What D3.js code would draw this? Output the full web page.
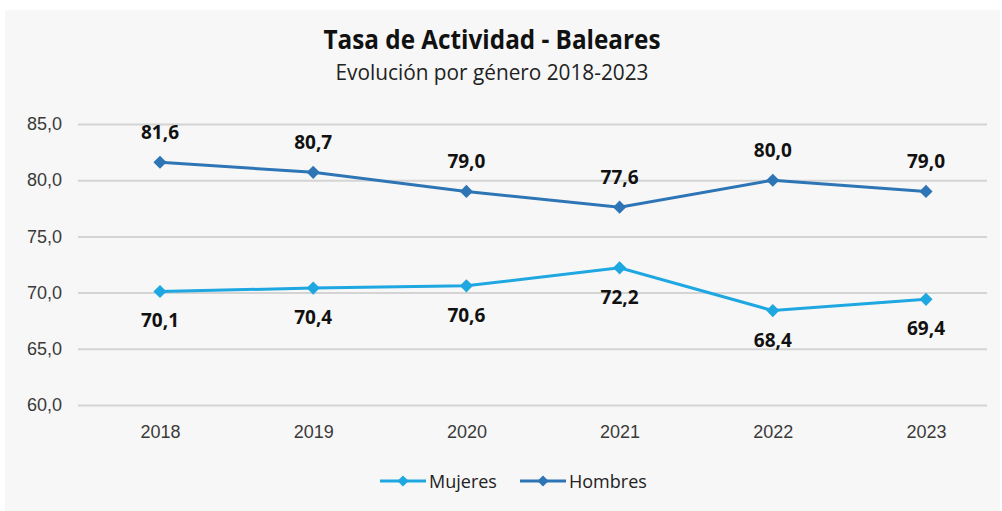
<!DOCTYPE html>
<html>
<head>
<meta charset="utf-8">
<script src="https://cdn.jsdelivr.net/npm/d3@7"></script>
<style>
  body { margin: 0; background: #fff; }
  svg { display: block; font-family: "Open Sans", "Noto Sans", sans-serif; }
</style>
</head>
<body>
<div class="board"></div>
<script>
var width = 1002;
var height = 511;

var years = ['2018', '2019', '2020', '2021', '2022', '2023'];
var mujeres = [70.1, 70.4, 70.6, 72.2, 68.4, 69.4];
var hombres = [81.6, 80.7, 79.0, 77.6, 80.0, 79.0];
var yTicks = [60, 65, 70, 75, 80, 85];

var colorMujeres = '#1ea7e1';
var colorHombres = '#2e75b6';

var svg = d3.select('.board')
            .append('svg')
            .attr('width', width)
            .attr('height', height);

// panel background
svg.append('rect')
   .attr('x', 5).attr('y', 10)
   .attr('width', 995).attr('height', 501)
   .attr('fill', '#f7f7f7');

var x = d3.scalePoint().domain(years).range([160, 926]);
var y = d3.scaleLinear().domain([60, 85]).range([405, 124]);

var fmt = function(v) { return v.toFixed(1).replace('.', ','); };

// y axis with gridlines
var yAxis = svg.append('g')
   .attr('transform', 'translate(78,0)')
   .call(d3.axisLeft(y).tickValues(yTicks).tickSize(-909).tickFormat(fmt));
yAxis.select('.domain').remove();
yAxis.selectAll('line').attr('stroke', '#d4d4d4').attr('stroke-width', 2);
yAxis.selectAll('text')
     .attr('x', -16)
     .attr('fill', '#3a3a3a')
     .style('font-size', '18px');

// x axis labels
var xAxis = svg.append('g')
   .attr('transform', 'translate(0,405)')
   .call(d3.axisBottom(x).tickSize(0).tickPadding(20));
xAxis.select('.domain').remove();
xAxis.selectAll('text')
     .attr('fill', '#3a3a3a')
     .style('font-size', '18px');

var series = [
  { name: 'Mujeres', values: mujeres, color: colorMujeres, dy: 36 },
  { name: 'Hombres', values: hombres, color: colorHombres, dy: -23 }
];

var line = d3.line()
   .x(function(d, i) { return x(years[i]); })
   .y(function(d) { return y(d); });

var diamond = d3.symbol().type(d3.symbolDiamond2).size(110);

series.forEach(function(s) {
  svg.append('path')
     .datum(s.values)
     .attr('d', line)
     .attr('fill', 'none')
     .attr('stroke', s.color)
     .attr('stroke-width', 3);

  svg.selectAll('.m-' + s.name)
     .data(s.values)
     .enter()
     .append('path')
     .attr('d', diamond)
     .attr('transform', function(d, i) { return 'translate(' + x(years[i]) + ',' + y(d) + ')'; })
     .attr('fill', s.color);

  svg.selectAll('.l-' + s.name)
     .data(s.values)
     .enter()
     .append('text')
     .attr('x', function(d, i) { return x(years[i]); })
     .attr('y', function(d) { return y(d) + s.dy; })
     .attr('text-anchor', 'middle')
     .attr('font-weight', 'bold')
     .style('font-size', '19px')
     .attr('fill', '#111')
     .text(fmt);
});

// titles
svg.append('text')
   .attr('x', 492).attr('y', 49)
   .attr('text-anchor', 'middle')
   .attr('font-weight', 'bold')
   .style('font-family', '"Liberation Sans Narrow", "Open Sans", sans-serif')
   .style('font-size', '27px')
   .attr('textLength', 337)
   .attr('lengthAdjust', 'spacingAndGlyphs')
   .attr('fill', '#111')
   .text('Tasa de Actividad - Baleares');

svg.append('text')
   .attr('x', 492).attr('y', 80)
   .attr('text-anchor', 'middle')
   .style('font-family', '"Liberation Sans Narrow", "Open Sans", sans-serif')
   .style('font-size', '22px')
   .attr('textLength', 313)
   .attr('lengthAdjust', 'spacingAndGlyphs')
   .attr('fill', '#222')
   .text('Evolución por género 2018-2023');

// legend
var legendItems = [
  { name: 'Mujeres', color: colorMujeres, x: 380 },
  { name: 'Hombres', color: colorHombres, x: 520 }
];
var legend = svg.selectAll('.legend')
   .data(legendItems)
   .enter()
   .append('g')
   .attr('transform', function(d) { return 'translate(' + d.x + ',481)'; });
legend.append('line')
   .attr('x1', 0).attr('x2', 46)
   .attr('stroke', function(d) { return d.color; })
   .attr('stroke-width', 3);
legend.append('path')
   .attr('d', d3.symbol().type(d3.symbolDiamond2).size(80))
   .attr('transform', 'translate(23,0)')
   .attr('fill', function(d) { return d.color; });
legend.append('text')
   .attr('x', 49).attr('y', 7)
   .style('font-size', '18px')
   .attr('fill', '#222')
   .text(function(d) { return d.name; });
</script>
</body>
</html>
